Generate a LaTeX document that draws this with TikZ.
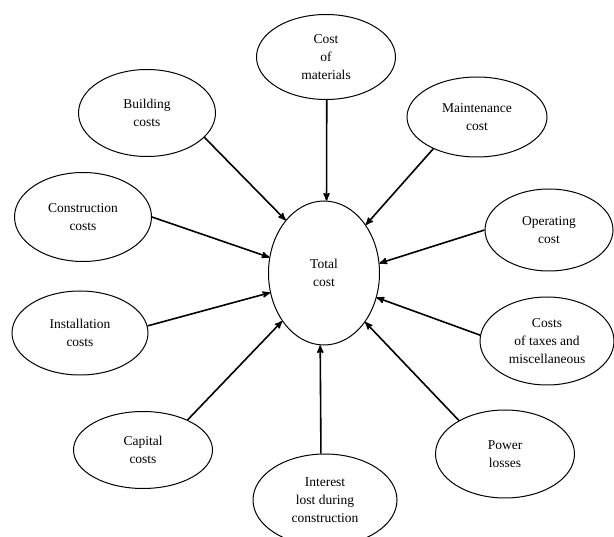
\documentclass[tikz,border=0pt]{standalone}
\usepackage{fontspec}
\setmainfont{Liberation Serif}
\usetikzlibrary{arrows,shapes.geometric}

\begin{document}
\begin{tikzpicture}[>=stealth',x=1pt,y=-1pt]
	\tikzset{
	%Define style for the cost ellipses
	blob/.style={
		ellipse,
		draw=black, line width=1pt,
		inner sep=0pt,
		align=center,
		font=\fontsize{13.5}{18}\selectfont},
	% Define arrow style
	pil/.style={
		->,
		line width=1.6pt}
}
	\useasboundingbox (0,0) rectangle (614,537);

	%centre
	\node[blob,minimum width=111pt,minimum height=144pt] at (324,273) (tot) {Total\\cost};

	%upper half
	\node[blob,minimum width=139pt,minimum height=85pt] at (326,57) (mat) {Cost\\of\\materials};
	\node[blob,minimum width=137pt,minimum height=87pt] at (147,113) (bld) {Building\\costs};
	\node[blob,minimum width=140pt,minimum height=80pt] at (477,117) (mnt) {Maintenance\\cost};
	\node[blob,minimum width=137pt,minimum height=89pt] at (83,217) (con) {Construction\\costs};
	\node[blob,minimum width=128pt,minimum height=82pt] at (549,230) (opr) {Operating\\cost};
	%lower half
	\node[blob,minimum width=136pt,minimum height=84pt] at (80,333) (ins) {Installation\\costs};
	\node[blob,minimum width=134pt,minimum height=88pt] at (547,341) (tax) {Costs\\of taxes and\\miscellaneous};
	\node[blob,minimum width=139pt,minimum height=77pt] at (143,450) (cap) {Capital\\costs};
	\node[blob,minimum width=139pt,minimum height=88pt] at (505,454) (pow) {Power\\losses};
	\node[blob,minimum width=144pt,minimum height=92pt] at (325,500) (int) {Interest\\lost during\\construction};

	%arrows into the centre
	\draw[pil] (mat.-89) -- (tot.88);
	\draw[pil] (bld.-23) -- (tot.126);
	\draw[pil] (mnt.216) -- (tot.49.5);
	\draw[pil] (con.0) -- (tot.164);
	\draw[pil] (opr.180) -- (tot.10);
	\draw[pil] (ins.6) -- (tot.200.5);
	\draw[pil] (tax.175) -- (tot.-25);
	\draw[pil] (cap.34) -- (tot.229);
	\draw[pil] (pow.144) -- (tot.-50);
	\draw[pil] (int.95) -- (tot.-93);

\end{tikzpicture}
\end{document}
